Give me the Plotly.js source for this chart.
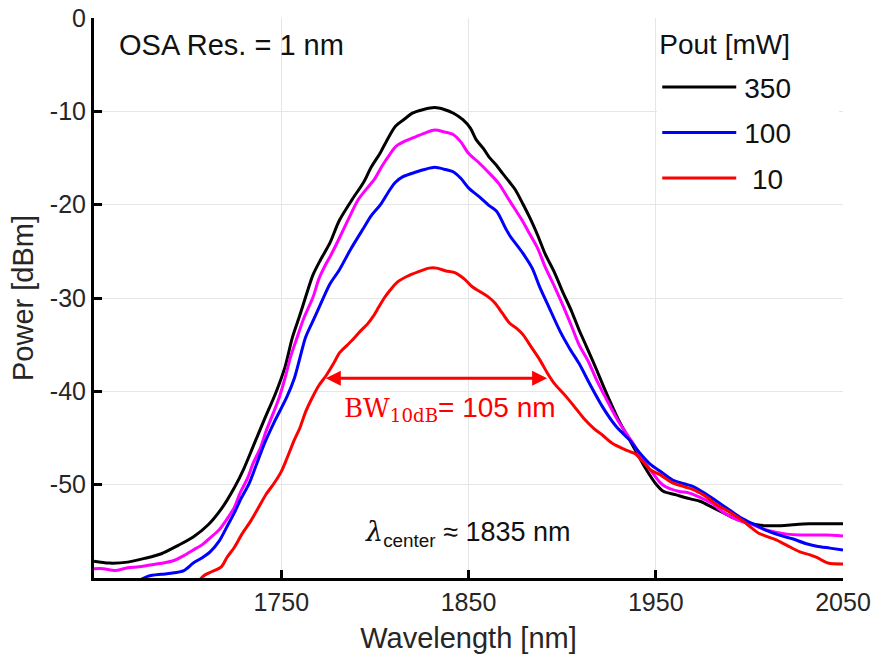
<!DOCTYPE html>
<html>
<head>
<meta charset="utf-8">
<script src="https://cdn.plot.ly/plotly-3.0.1.min.js"></script>
<style>html,body{margin:0;padding:0;background:#fff;}#chart{width:885px;height:657px;}</style>
</head>
<body>
<div id="chart"></div>
<script>
// ---- data ----
const wl350 = [1650,1658,1668,1677,1686,1695,1703,1711,1718,1725,1730,1735,1741,1747,1752,1756,1760,1763,1767,1771,1776,1781,1788,1794,1798,1803,1807,1811,1816,1820,1826,1832,1837,1842,1847,1851,1854,1858,1861,1865,1868,1872,1875,1879,1883,1887,1891,1896,1900,1905,1909,1913,1918,1923,1930,1936,1941,1945,1950,1954,1961,1968,1974,1980,1987,1993,1998,2004,2009,2016,2023,2032,2041,2050];
const p350  = [-58.2,-58.4,-58.3,-57.9,-57.4,-56.5,-55.6,-54.3,-52.6,-50.3,-48.3,-45.9,-43.0,-40.2,-37.4,-34.2,-31.8,-29.9,-27.5,-25.9,-24.1,-21.7,-19.4,-17.6,-16.0,-14.4,-12.9,-11.6,-10.8,-10.2,-9.8,-9.6,-9.8,-10.2,-10.9,-11.8,-13.0,-14.0,-14.9,-15.8,-16.6,-17.6,-18.4,-19.9,-21.5,-23.3,-25.3,-27.3,-29.2,-31.4,-33.4,-35.2,-37.5,-39.9,-43.0,-45.2,-47.0,-48.4,-49.9,-50.7,-51.1,-51.5,-51.8,-52.4,-53.1,-53.7,-54.0,-54.3,-54.4,-54.4,-54.3,-54.2,-54.2,-54.2];

const wlMag = [1650,1655,1661,1668,1674,1680,1687,1693,1698,1703,1708,1712,1717,1721,1725,1728,1732,1735,1739,1742,1746,1749,1752,1755,1758,1762,1767,1770,1774,1776,1781,1786,1791,1796,1800,1804,1808,1811,1816,1822,1827,1832,1837,1842,1846,1850,1855,1861,1866,1872,1879,1882,1887,1891,1896,1900,1905,1909,1914,1918,1923,1930,1938,1942,1947,1952,1955,1962,1968,1974,1980,1987,1994,2002,2008,2014,2020,2027,2034,2041,2050];
const pMag  = [-59.0,-59.0,-59.2,-58.9,-58.8,-58.6,-58.4,-58.1,-57.6,-57.0,-56.4,-55.7,-54.8,-53.7,-52.4,-50.9,-49.3,-47.7,-46.0,-44.2,-42.2,-40.6,-38.6,-36.3,-34.5,-32.2,-29.9,-28.0,-26.3,-25.6,-23.6,-21.5,-19.5,-18.2,-17.2,-15.8,-14.6,-13.8,-13.2,-12.7,-12.3,-12.0,-12.2,-12.5,-13.3,-14.5,-15.4,-16.6,-17.7,-19.6,-21.8,-22.9,-24.7,-26.7,-28.8,-30.6,-33.0,-35.0,-36.8,-38.6,-40.6,-43.2,-45.6,-47.0,-48.4,-49.7,-50.2,-50.7,-50.9,-51.4,-52.0,-53.1,-53.8,-54.3,-54.8,-55.1,-55.3,-55.4,-55.4,-55.4,-55.5];

const wl100 = [1672,1679,1686,1691,1698,1703,1708,1712,1717,1721,1725,1728,1733,1737,1741,1746,1753,1757,1760,1763,1768,1772,1776,1781,1787,1794,1798,1803,1808,1811,1815,1822,1827,1832,1837,1842,1846,1850,1856,1861,1865,1870,1872,1879,1884,1888,1893,1899,1904,1909,1915,1922,1929,1936,1941,1947,1952,1959,1965,1970,1976,1982,1990,1996,2003,2009,2016,2023,2030,2036,2043,2050];
const p100  = [-60.5,-59.8,-59.6,-59.5,-59.2,-58.4,-57.8,-57.2,-56.0,-54.5,-53.0,-51.7,-49.8,-47.7,-45.6,-43.4,-40.6,-38.6,-36.4,-34.2,-32.0,-30.2,-28.5,-27.0,-24.8,-22.5,-21.2,-20.0,-18.4,-17.6,-17.0,-16.5,-16.2,-16.0,-16.2,-16.5,-17.2,-18.2,-19.2,-20.1,-20.7,-22.6,-23.3,-25.2,-26.8,-28.8,-31.0,-33.6,-35.4,-37.0,-39.3,-41.8,-43.8,-45.2,-46.5,-47.8,-48.5,-49.5,-49.9,-50.2,-50.9,-51.7,-52.8,-53.6,-54.3,-54.9,-55.4,-55.8,-56.3,-56.6,-56.8,-57.0];

const wl10 = [1705,1709,1713,1718,1721,1725,1729,1734,1738,1742,1746,1750,1753,1757,1760,1763,1766,1770,1774,1778,1781,1785,1788,1792,1796,1799,1802,1805,1808,1812,1817,1823,1829,1833,1838,1843,1848,1852,1856,1860,1864,1868,1872,1876,1879,1884,1888,1892,1896,1901,1906,1912,1917,1921,1927,1933,1939,1943,1947,1952,1959,1965,1971,1977,1983,1990,1996,2001,2005,2010,2014,2020,2027,2032,2036,2042,2050];
const p10  = [-60.5,-59.7,-59.3,-58.8,-57.8,-56.7,-55.3,-53.8,-52.4,-51.0,-49.9,-48.6,-47.2,-45.2,-43.9,-42.2,-40.9,-39.4,-38.3,-37.0,-35.9,-35.1,-34.5,-33.6,-32.8,-32.0,-31.0,-30.0,-29.2,-28.3,-27.7,-27.2,-26.8,-26.8,-27.1,-27.3,-28.0,-28.8,-29.3,-29.8,-30.5,-31.6,-32.7,-33.3,-33.9,-35.4,-36.6,-38.0,-39.2,-40.3,-41.5,-43.0,-44.0,-44.6,-45.6,-46.2,-46.7,-47.5,-48.4,-48.9,-49.8,-50.2,-50.6,-51.3,-52.2,-53.0,-53.8,-54.6,-55.2,-55.6,-55.9,-56.5,-57.2,-57.5,-57.8,-58.4,-58.5];

const legendNames = ['350', '100', '\u00a010'];
const xTicks = [1750, 1850, 1950, 2050];
const yTicks = [-50, -40, -30, -20, -10, 0];
const bwStart = 1773, bwEnd = 1892, bwLevel = -38.6;

const FONT = 'Liberation Sans, Arial, sans-serif';
const lw = 3;
const lineStyle = (c) => ({color: c, width: lw, shape: 'spline', smoothing: 0.8});

const traces = [
  {x: wl350, y: p350, mode: 'lines', name: legendNames[0], legendgroup: 'a', line: lineStyle('#000000')},
  {x: wlMag, y: pMag, mode: 'lines', name: '', showlegend: false, legendgroup: 'm', line: lineStyle('#ff00ff')},
  {x: wl100, y: p100, mode: 'lines', name: legendNames[1], legendgroup: 'b', line: lineStyle('#0000ff')},
  {x: wl10,  y: p10,  mode: 'lines', name: legendNames[2], legendgroup: 'c', line: lineStyle('#ff0000')}
];

const layout = {
  width: 885, height: 657,
  margin: {l: 94, r: 42, t: 18, b: 79},
  paper_bgcolor: '#ffffff', plot_bgcolor: '#ffffff',
  font: {family: FONT, size: 25, color: '#262626'},
  showlegend: true,
  legend: {
    x: 0.752, y: 1.0, xanchor: 'left', yanchor: 'top',
    bgcolor: '#ffffff', borderwidth: 0,
    font: {family: FONT, size: 28, color: '#111111'},
    title: {text: 'Pout [mW]', font: {family: FONT, size: 28, color: '#111111'}},
    traceorder: 'grouped', tracegroupgap: 6
  },
  xaxis: {
    range: [1650, 2050], tickvals: xTicks, ticktext: xTicks.map(String),
    ticks: 'inside', ticklen: 8, tickwidth: 3, tickcolor: '#000',
    showline: true, linecolor: '#000', linewidth: 3, mirror: false,
    showgrid: true, gridcolor: '#e6e6e6', gridwidth: 1, zeroline: false,
    tickfont: {family: FONT, size: 25, color: '#262626'},
    title: {text: 'Wavelength [nm]', font: {family: FONT, size: 29, color: '#262626'}, standoff: 13},
    automargin: false
  },
  yaxis: {
    range: [-60, 0], tickvals: yTicks, ticktext: yTicks.map(String),
    ticks: 'inside', ticklen: 8, tickwidth: 3, tickcolor: '#000',
    showline: true, linecolor: '#000', linewidth: 3, mirror: false,
    showgrid: true, gridcolor: '#e6e6e6', gridwidth: 1, zeroline: false,
    tickfont: {family: FONT, size: 25, color: '#262626'},
    title: {text: 'Power [dBm]', font: {family: FONT, size: 29, color: '#262626'}, standoff: 8},
    automargin: false
  },
  annotations: [
    {x: 1662.3, y: -2.9, xref: 'x', yref: 'y', xanchor: 'left', yanchor: 'middle', showarrow: false,
     text: 'OSA Res. = 1 nm', font: {family: FONT, size: 29, color: '#111111'}},
    {x: 1849.7, y: -55.2, xref: 'x', yref: 'y', xanchor: 'center', yanchor: 'middle', showarrow: false,
     text: '<span style="font-family:DejaVu Serif, serif;font-style:italic">λ</span><sub>center</sub> ≈ 1835 nm',
     font: {family: FONT, size: 27, color: '#111111'}},
    {x: bwEnd, y: bwLevel, ax: bwStart, ay: bwLevel, xref: 'x', yref: 'y', axref: 'x', ayref: 'y',
     text: '', showarrow: true, arrowside: 'end+start', arrowhead: 2, arrowsize: 1, arrowwidth: 3, arrowcolor: '#ff0000'},
    {x: 1839.9, y: -41.9, xref: 'x', yref: 'y', xanchor: 'center', yanchor: 'middle', showarrow: false,
     text: '<span style="font-family:DejaVu Serif, serif;font-size:26px">BW<sub>10dB</sub></span>= 105 nm',
     font: {family: FONT, size: 28, color: '#ff0000'}}
  ]
};

Plotly.newPlot('chart', traces, layout, {staticPlot: true, displayModeBar: false}).then(function (gd) {
  // lengthen the legend line samples and place entries as in the reference
  const extra = 47, dropFirst = 8;
  gd.querySelectorAll('.legend .legendlines path').forEach(function (p) { p.setAttribute('d', 'M5,0h74'); });
  gd.querySelectorAll('.legend text.legendtext').forEach(function (t) { t.setAttribute('transform', 'translate(' + extra + ',0)'); });
  gd.querySelectorAll('.legend g.groups').forEach(function (g) {
    const tr = g.getAttribute('transform') || '';
    g.setAttribute('transform', 'translate(0,' + dropFirst + ') ' + tr);
  });
  const bg = gd.querySelector('.legend rect.bg');
  if (bg) {
    bg.setAttribute('width', (parseFloat(bg.getAttribute('width')) || 0) + extra);
    bg.setAttribute('height', (parseFloat(bg.getAttribute('height')) || 0) + dropFirst);
  }
});
</script>
</body>
</html>
